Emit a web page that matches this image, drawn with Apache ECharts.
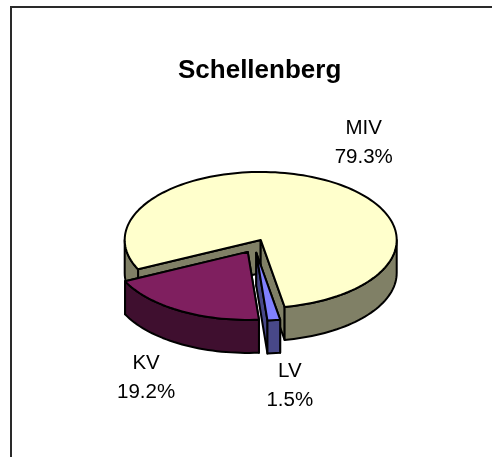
<!DOCTYPE html>
<html>
<head>
<meta charset="utf-8">
<style>
  html, body { margin: 0; padding: 0; background: #fff; }
  #chart { width: 492px; height: 457px; }
</style>
<script src="https://cdn.jsdelivr.net/npm/echarts@6/dist/echarts.min.js"></script>
</head>
<body>
<div id="chart"></div>
<script>
// values, clockwise from the start angle
const categories = ["MIV", "LV", "KV"];
const shares = [79.3, 1.5, 19.2];

const topColors = ["#FFFFCC", "#8080FF", "#7F1F5F"];
const sideColors = ["#808066", "#484888", "#3F0F2F"];
// label offset from the rim middle of the slice
const labelOffsets = [[41, -37], [16, 66], [-34, 67]];

const pie = { cx: 254.5, cy: 246, rx: 136, ry: 68, depth: 33, explode: 0.1, startAngle: 244.4 };
const total = shares.reduce((a, b) => a + b, 0);
const rad = (d) => (d * Math.PI) / 180;

function arcPoints(c, from, to, dy) {
  const n = Math.max(2, Math.ceil(Math.abs(to - from) / 2));
  const pts = [];
  for (let i = 0; i <= n; i++) {
    const t = rad(from + ((to - from) * i) / n);
    pts.push([c[0] + pie.rx * Math.sin(t), c[1] - pie.ry * Math.cos(t) + dy]);
  }
  return pts;
}

function renderSlice(params, api) {
  const i = params.dataIndex;
  const before = shares.slice(0, i).reduce((a, b) => a + b, 0);
  const a0 = pie.startAngle + (before / total) * 360;
  const a1 = a0 + (shares[i] / total) * 360;
  const mid = rad((a0 + a1) / 2);
  const c = [
    pie.cx + pie.explode * pie.rx * Math.sin(mid),
    pie.cy - pie.explode * pie.ry * Math.cos(mid),
  ];
  const side = { fill: sideColors[i], stroke: "#000", lineWidth: 2, lineJoin: "round" };
  const children = [];
  const poly = (points, style) => children.push({ type: "polygon", shape: { points }, style });

  // cut faces
  [a0, a1].forEach((a) => {
    const e = arcPoints(c, a, a, 0)[0];
    poly([c, e, [e[0], e[1] + pie.depth], [c[0], c[1] + pie.depth]], side);
  });

  // outer wall, only the front half shows
  for (let k = 0; k < 2; k++) {
    const from = Math.max(a0, 90 + 360 * k);
    const to = Math.min(a1, 270 + 360 * k);
    if (from < to) {
      poly(arcPoints(c, from, to, 0).concat(arcPoints(c, to, from, pie.depth)), side);
    }
  }

  // top
  poly([c].concat(arcPoints(c, a0, a1, 0)), {
    fill: topColors[i], stroke: "#000", lineWidth: 2, lineJoin: "round",
  });

  // label
  const rimX = c[0] + pie.rx * Math.sin(mid);
  const rimY = c[1] - pie.ry * Math.cos(mid);
  children.push({
    type: "text",
    style: {
      x: rimX + labelOffsets[i][0],
      y: rimY + labelOffsets[i][1],
      text: categories[i] + "\n" + api.value(0).toFixed(1) + "%",
      fill: "#000",
      font: '20.5px "Liberation Sans", Arial, sans-serif',
      lineHeight: 29,
      align: "center",
      verticalAlign: "middle",
    },
  });
  return { type: "group", children };
}

const chart = echarts.init(document.getElementById("chart"), null, { renderer: "canvas" });
chart.setOption({
  animation: false,
  backgroundColor: "#fff",
  title: {
    text: "Schellenberg",
    left: 178,
    top: 58,
    padding: 0,
    textStyle: {
      fontFamily: '"Liberation Sans", Arial, sans-serif',
      fontWeight: "bold",
      fontSize: 26,
      color: "#000",
    },
  },
  graphic: [
    { type: "polyline", silent: true, shape: { points: [[11, 457], [11, 7], [492, 7]] },
      style: { stroke: "#2a2a2a", lineWidth: 2, fill: null } },
  ],
  series: [
    {
      type: "custom",
      coordinateSystem: "none",
      silent: true,
      renderItem: renderSlice,
      data: shares.map((v) => [v]),
    },
  ],
});
</script>
</body>
</html>
